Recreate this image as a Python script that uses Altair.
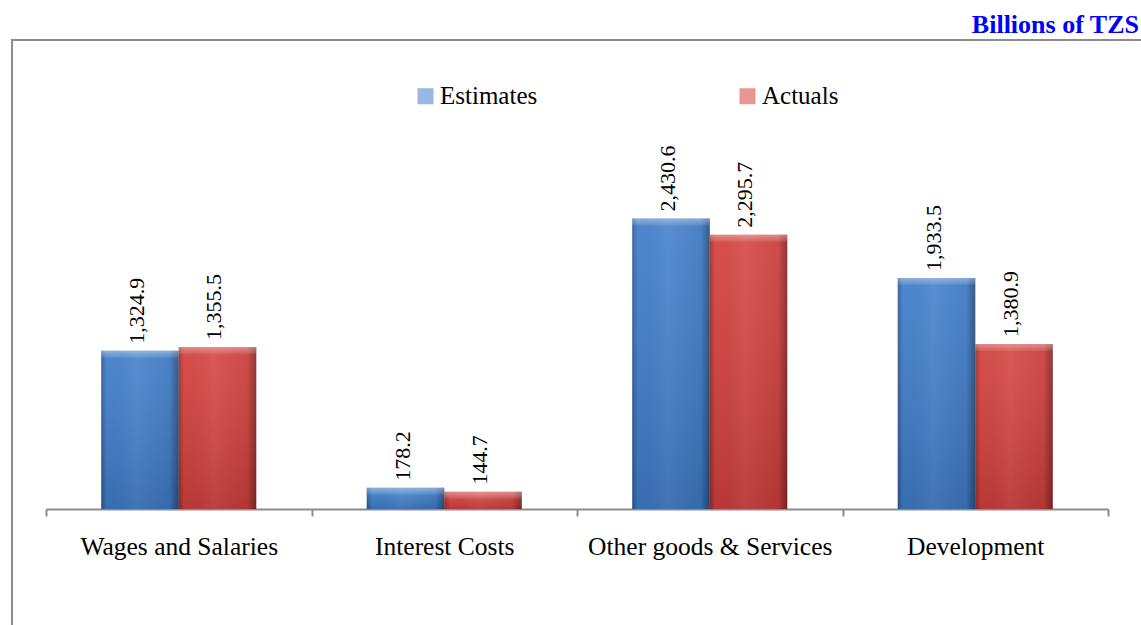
import altair as alt
import pandas as pd

# Budget outturn by spending category (billions of TZS)
categories = ["Wages and Salaries", "Interest Costs", "Other goods & Services", "Development"]
series = ["Estimates", "Actuals"]
estimates = [1324.9, 178.2, 2430.6, 1933.5]
actuals = [1355.5, 144.7, 2295.7, 1380.9]
unit_label = "Billions of TZS"

rows = []
for cat, est, act in zip(categories, estimates, actuals):
    rows.append({"Category": cat, "Series": "Estimates", "Value": est})
    rows.append({"Category": cat, "Series": "Actuals", "Value": act})
df = pd.DataFrame(rows)

W, H = 1062, 358.5
PAD = {"left": 46, "top": 150.5, "right": 33, "bottom": 116}
FONT = "Liberation Serif"
GREY = "#8c8c8c"

x = alt.X(
    "Category:N",
    sort=categories,
    scale=alt.Scale(paddingInner=0, paddingOuter=0),
    axis=alt.Axis(
        title=None,
        domainColor=GREY,
        domainWidth=2,
        tickBand="extent",
        tickColor=GREY,
        tickWidth=2,
        tickSize=7,
        labelFont=FONT,
        labelFontSize=25.5,
        labelColor="black",
        labelPadding=18,
        labelAngle=0,
        labelLimit=400,
    ),
)
xo = alt.XOffset(
    "Series:N",
    sort=series,
    scale=alt.Scale(domain=series, paddingInner=0, paddingOuter=0.713),
)
y = alt.Y("Value:Q", scale=alt.Scale(domain=[0, 3000]), axis=None)

base = alt.Chart(df)

bars = base.mark_bar().encode(
    x=x,
    xOffset=xo,
    y=y,
    color=alt.Color(
        "Series:N",
        sort=series,
        scale=alt.Scale(domain=series, range=["#3f7dca", "#d3403d"]),
        legend=alt.Legend(
            orient="none",
            legendX=367,
            legendY=-67,
            direction="horizontal",
            title=None,
            symbolType="square",
            symbolSize=256,
            symbolOpacity=0.55,
            symbolStrokeWidth=0,
            labelFont=FONT,
            labelFontSize=25,
            labelColor="black",
            labelOffset=2,
            columnPadding=197,
        ),
    ),
)

# bevel shading: darker side edges, soft light centre
side_shade = base.mark_bar(
    fill=alt.Gradient(
        gradient="linear",
        x1=0, x2=1, y1=0, y2=0,
        stops=[
            alt.GradientStop(offset=0, color="rgba(0,0,0,0.28)"),
            alt.GradientStop(offset=0.07, color="rgba(0,0,0,0.0)"),
            alt.GradientStop(offset=0.45, color="rgba(255,255,255,0.06)"),
            alt.GradientStop(offset=0.88, color="rgba(0,0,0,0.04)"),
            alt.GradientStop(offset=1, color="rgba(0,0,0,0.38)"),
        ],
    )
).encode(x=x, xOffset=xo, y=y)

depth_shade = base.mark_bar(
    fill=alt.Gradient(
        gradient="linear",
        x1=0, x2=0, y1=0, y2=1,
        stops=[
            alt.GradientStop(offset=0, color="rgba(255,255,255,0.08)"),
            alt.GradientStop(offset=1, color="rgba(0,0,0,0.12)"),
        ],
    )
).encode(x=x, xOffset=xo, y=y)

top_bevel = base.mark_bar(
    y2Offset=7,
    fill=alt.Gradient(
        gradient="linear",
        x1=0, x2=0, y1=0, y2=1,
        stops=[
            alt.GradientStop(offset=0, color="rgba(255,255,255,0.35)"),
            alt.GradientStop(offset=1, color="rgba(255,255,255,0.08)"),
        ],
    ),
).encode(x=x, xOffset=xo, y=y, y2="Value:Q")

labels = base.mark_text(
    angle=270,
    align="left",
    baseline="middle",
    dx=7,
    dy=-3,
    font=FONT,
    fontSize=22,
    color="black",
).encode(x=x, xOffset=xo, y=y, text=alt.Text("Value:Q", format=",.1f"))

frame = alt.Chart(pd.DataFrame({"k": [0]})).mark_rect(
    fill="transparent", stroke=GREY, strokeWidth=2
).encode(
    x=alt.value(-PAD["left"] + 12),
    x2=alt.value(W + PAD["right"] + 20),
    y=alt.value(-PAD["top"] + 40),
    y2=alt.value(H + PAD["bottom"] + 20),
)

unit = alt.Chart(pd.DataFrame({"t": [unit_label]})).mark_text(
    align="right",
    baseline="alphabetic",
    font=FONT,
    fontSize=26,
    fontWeight="bold",
    color="#0000ff",
).encode(
    x=alt.value(W + 31),
    y=alt.value(-PAD["top"] + 33),
    text="t:N",
)

chart = (
    alt.layer(frame, bars, side_shade, depth_shade, top_bevel, labels, unit)
    .properties(
        width=W,
        height=H,
        autosize=alt.AutoSizeParams(type="none"),
        padding=PAD,
        background="white",
    )
    .configure_view(stroke=None)
)

chart.save("out.html", embed_options={"renderer": "svg", "actions": False})
